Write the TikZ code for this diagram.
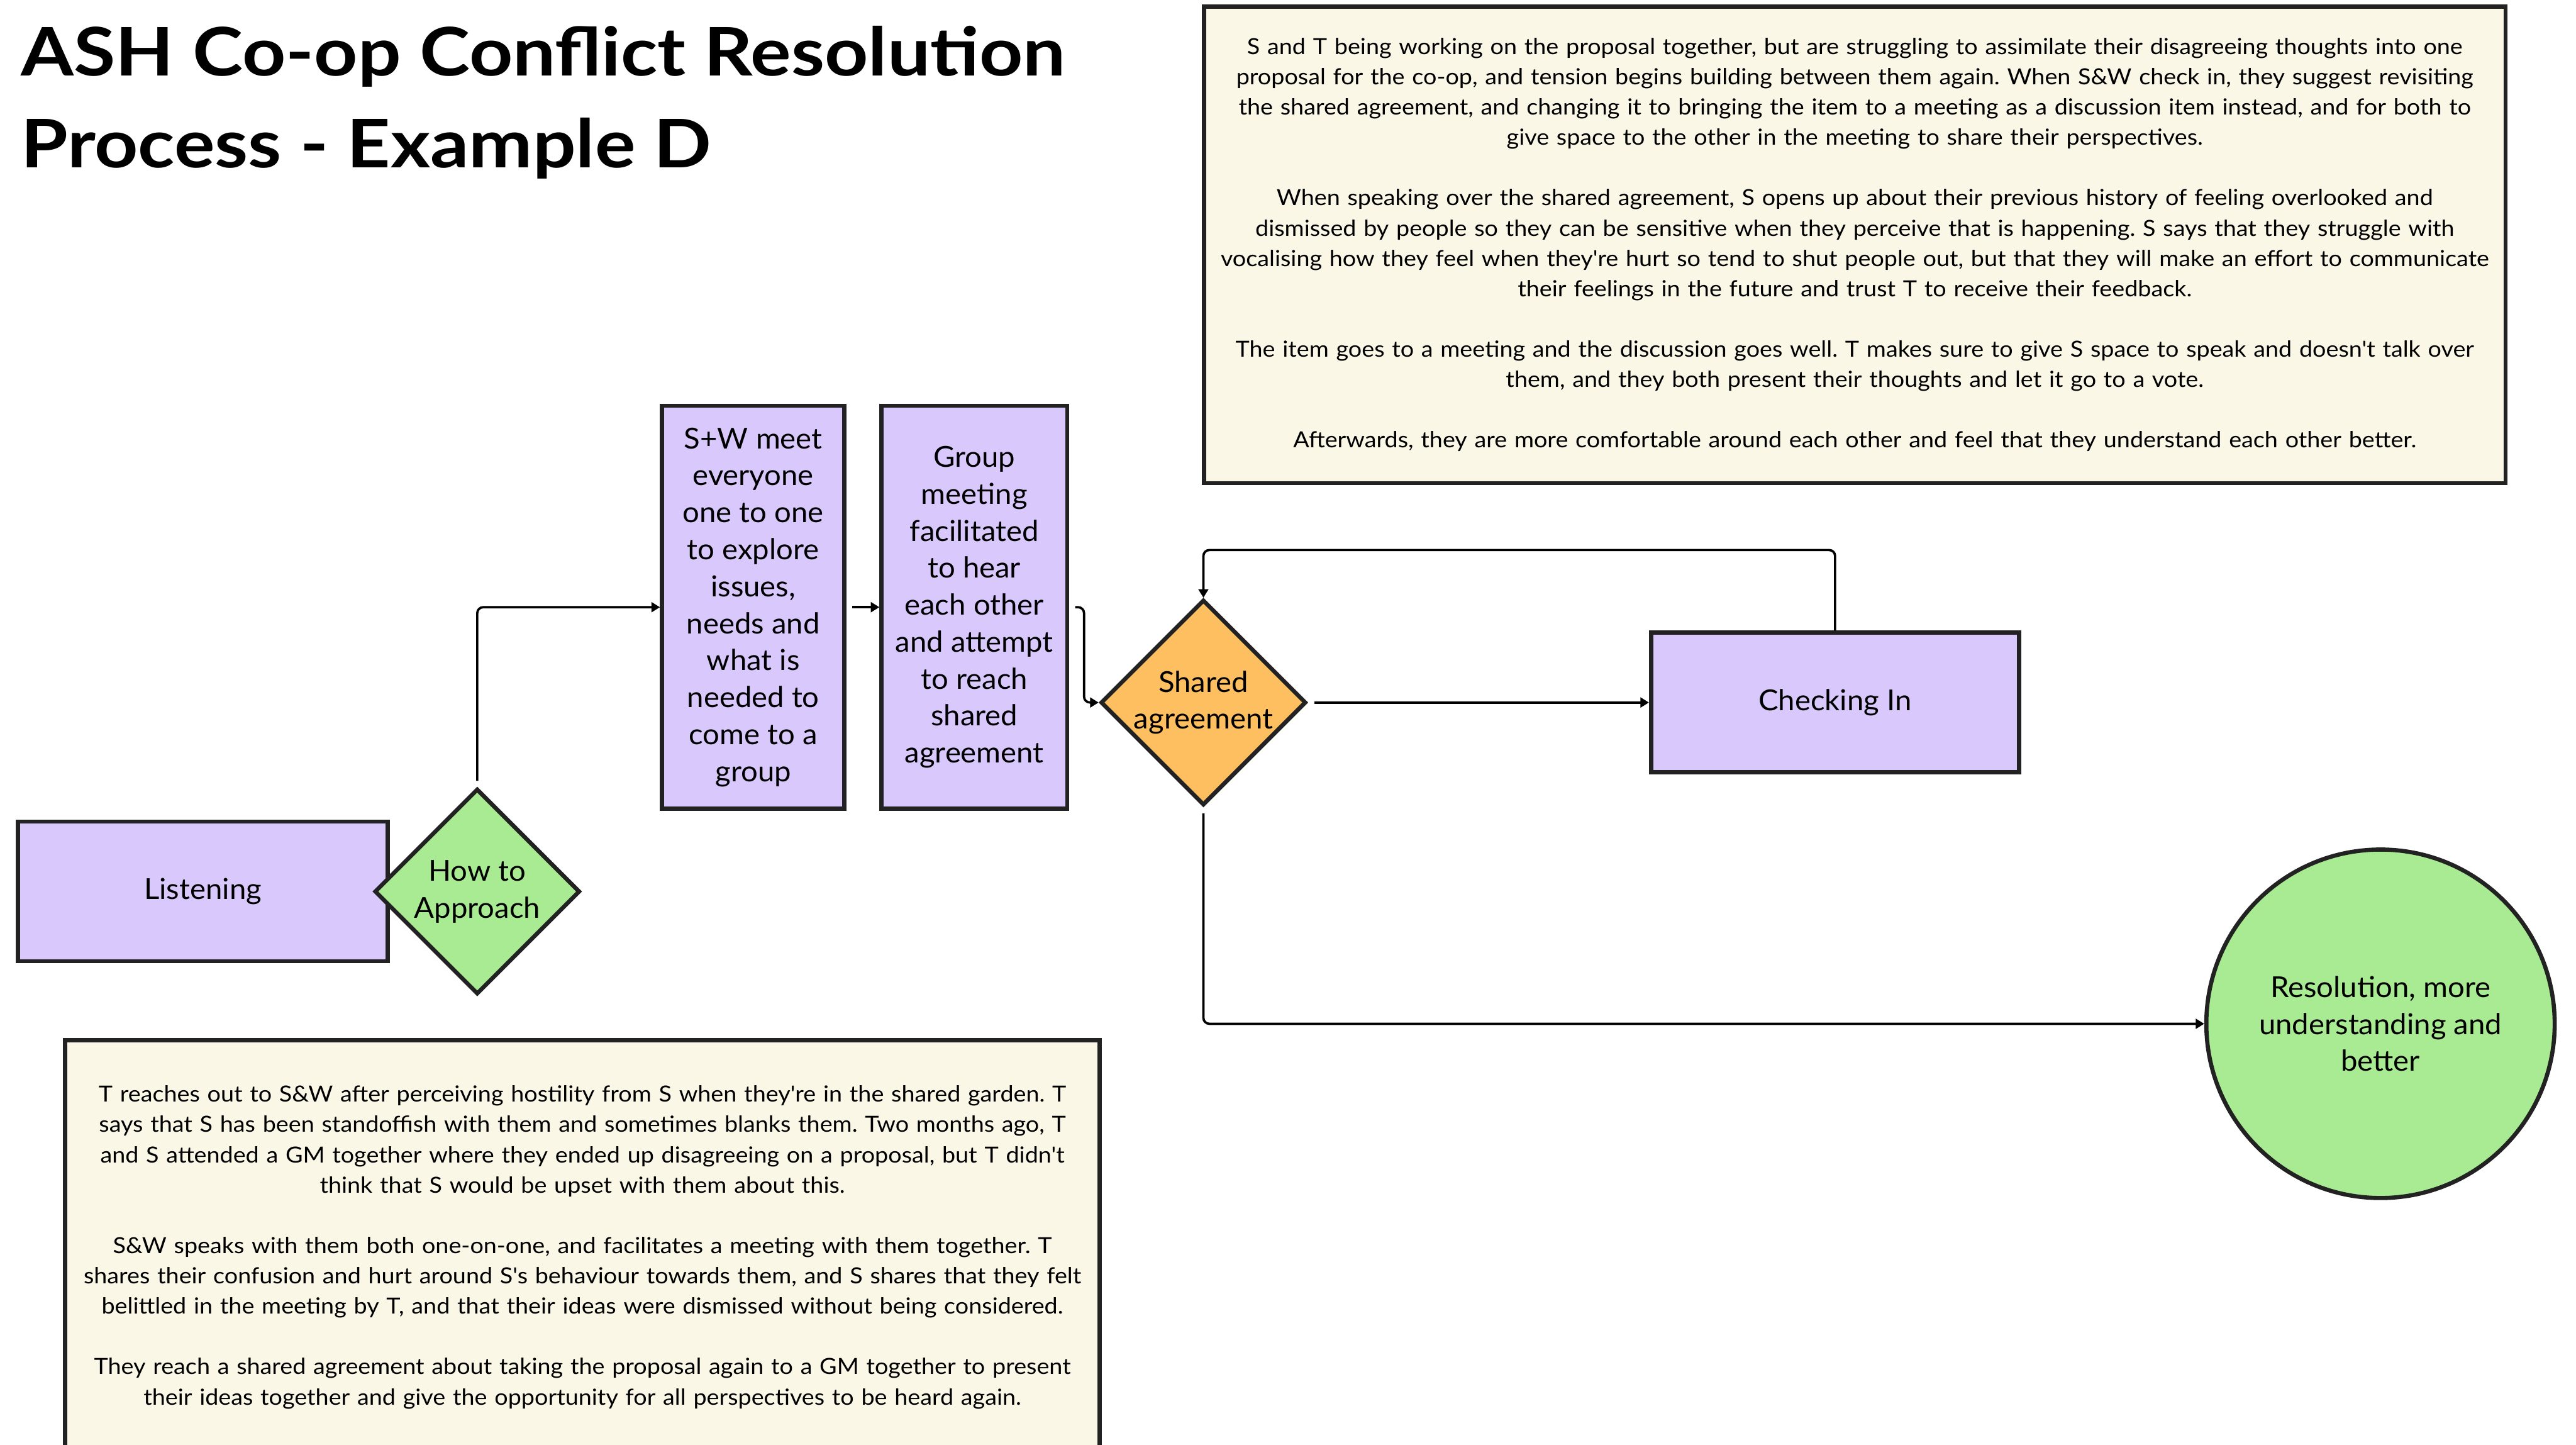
\documentclass[tikz,border=0pt]{standalone}
\usepackage{fontspec}
\setmainfont{Lato}[FakeStretch=1.03]
\newfontfamily\notefont{Lato}[FakeStretch=1.07]
\newfontfamily\headfont{Lato}[FakeStretch=1.135]
\frenchspacing
\usetikzlibrary{shapes.geometric,arrows.meta,positioning}

\definecolor{lavender}{HTML}{D8C8FC}
\definecolor{mint}{HTML}{A9EB92}
\definecolor{apricot}{HTML}{FDBF60}
\definecolor{cream}{HTML}{FAF7E6}
\definecolor{inkline}{HTML}{222222}

\begin{document}
\begin{tikzpicture}[->, >={Triangle[length=1.3mm,width=1.5mm]}, x=0.025cm, y=-0.025cm, line width=1pt]
			\tikzstyle{proc}=[rectangle, draw=inkline, line width=1.8pt, fill=lavender, align=center, inner sep=0pt, font=\fontsize{12.5}{16}\selectfont]
			\tikzstyle{choice}=[diamond, draw=inkline, line width=1.8pt, inner sep=0pt, minimum size=3.125cm]
			\tikzstyle{every label}=[align=center, font=\fontsize{12.5}{16}\selectfont]
			\tikzstyle{note}=[rectangle, draw=inkline, line width=1.8pt, fill=cream, align=center, font=\notefont\fontsize{9.6}{13.1}\selectfont]
			\tikzstyle{link}=[rounded corners=0.9mm, shorten <=0.9mm]
			\useasboundingbox (0,0) rectangle (1568,879);
			\node[anchor=north west, align=left, inner sep=0pt, font=\headfont\fontsize{29}{39.8}\selectfont\bfseries] (TITLE) at (12,15) {ASH Co-op Conflict Resolution\\Process - Example D};
			\node[note, minimum width=19.8cm, minimum height=7.25cm, text width=19.5cm] (STORYEND) at (1129,149) {S and T being working on the proposal together, but are struggling to assimilate their disagreeing thoughts into one\\proposal for the co-op, and tension begins building between them again. When S\&W check in, they suggest revisiting\\the shared agreement, and changing it to bringing the item to a meeting as a discussion item instead, and for both to\\give space to the other in the meeting to share their perspectives.\\[13.1pt]When speaking over the shared agreement, S opens up about their previous history of feeling overlooked and\\dismissed by people so they can be sensitive when they perceive that is happening. S says that they struggle with\\vocalising how they feel when they're hurt so tend to shut people out, but that they will make an effort to communicate\\their feelings in the future and trust T to receive their feedback.\\[13.1pt]The item goes to a meeting and the discussion goes well. T makes sure to give S space to speak and doesn't talk over\\them, and they both present their thoughts and let it go to a vote.\\[13.1pt]Afterwards, they are more comfortable around each other and feel that they understand each other better.};
			\node[note, minimum width=15.675cm, minimum height=6.3cm, text width=15.5cm] (STORYSTART) at (354.5,759) {T reaches out to S\&W after perceiving hostility from S when they're in the shared garden. T\\says that S has been standoffish with them and sometimes blanks them. Two months ago, T\\and S attended a GM together where they ended up disagreeing on a proposal, but T didn't\\think that S would be upset with them about this.\\[13.1pt]S\&W speaks with them both one-on-one, and facilitates a meeting with them together. T\\shares their confusion and hurt around S's behaviour towards them, and S shares that they felt\\belittled in the meeting by T, and that their ideas were dismissed without being considered.\\[13.1pt]They reach a shared agreement about taking the proposal again to a GM together to present\\their ideas together and give the opportunity for all perspectives to be heard again.};
			\node[proc, minimum width=5.625cm, minimum height=2.125cm] (LISTEN) at (123.5,542.5) {Listening};
			\node[choice, fill=mint, label=center:{How to\\Approach}] (HOW) at (290.5,542.5) {};
			\node[proc, minimum width=2.775cm, minimum height=6.125cm] (SWMEET) at (458.5,369.5) {S+W meet\\everyone\\one to one\\to explore\\issues,\\needs and\\what is\\needed to\\come to a\\group};
			\node[proc, minimum width=2.825cm, minimum height=6.125cm, right=0.5cm of SWMEET] (GROUP) {Group\\meeting\\facilitated\\to hear\\each other\\and attempt\\to reach\\shared\\agreement};
			\node[choice, fill=apricot, label=center:{Shared\\agreement}] (SHARED) at (732.5,427.5) {};
			\node[proc, minimum width=5.6cm, minimum height=2.125cm] (CHECK) at (1117,427.5) {Checking In};
			\node[circle, draw=inkline, line width=1.8pt, fill=mint, minimum size=5.3cm, inner sep=0pt, align=center, font=\fontsize{12.5}{16}\selectfont] (RESOLVE) at (1449,623) {Resolution, more\\understanding and\\better};
			\draw[link] (HOW.north) |- (SWMEET.west);
			\draw[link] (SWMEET.east) -- (GROUP.west);
			\draw[link] (GROUP.east) -- ++(9,0) |- (SHARED.west);
			\draw[link] (SHARED.east) -- (CHECK.west);
			\draw[link, shorten <=0pt] (CHECK.north) -- ++(0,-49) -| (SHARED.north);
			\draw[link] (SHARED.south) |- (RESOLVE.west);
		\end{tikzpicture}
\end{document}
